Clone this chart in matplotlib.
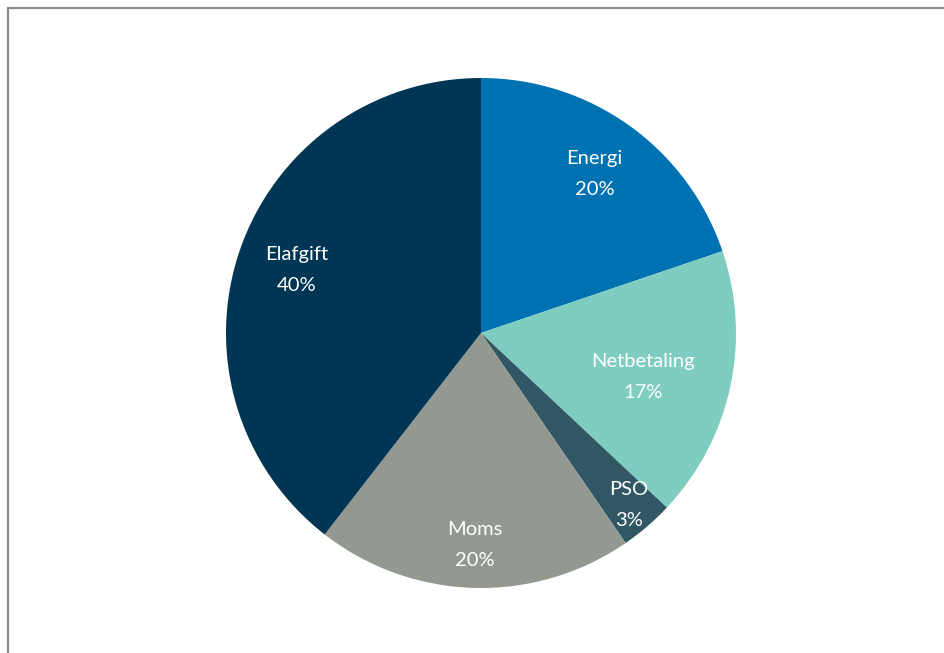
import matplotlib
matplotlib.use('Agg')
import matplotlib.pyplot as plt
from matplotlib.patches import Rectangle
import numpy as np

labels = ['Energi', 'Netbetaling', 'PSO', 'Moms', 'Elafgift']
values = [19.8, 17.2, 3.4, 20.1, 39.5]
pct_labels = ['20%', '17%', '3%', '20%', '40%']
colors = ['#0071B1', '#7ECDC0', '#305763', '#939890', '#003653']
label_r = [0.765, 0.66, 0.89, 0.83, 0.765]
label_turn = [0, -3, 0, 0, 0]  # small angle nudges, degrees

plt.rcParams['font.family'] = ['Lato', 'DejaVu Sans']

W, H = 944, 653
fig = plt.figure(figsize=(W / 100, H / 100), dpi=100)

# frame round the chart area (right and bottom edge fall outside the picture)
fig.add_artist(Rectangle((7.5 / W, -0.05), 1.0, 1 - 8 / H + 0.05,
                         transform=fig.transFigure, fill=False,
                         edgecolor='#8c8c8c', linewidth=1.6))

cx, cy, r = 481, 653 - 333, 255
ax = fig.add_axes([(cx - r) / W, (cy - r) / H, 2 * r / W, 2 * r / H])
wedges, _ = ax.pie(values, colors=colors, startangle=90, counterclock=False,
                   radius=1, wedgeprops=dict(linewidth=0))
ax.set_xlim(-1, 1)
ax.set_ylim(-1, 1)
ax.set_aspect('auto')
ax.axis('off')

for w, name, pct, d, t in zip(wedges, labels, pct_labels, label_r, label_turn):
    ang = np.deg2rad((w.theta1 + w.theta2) / 2 + t)
    ax.text(d * np.cos(ang), d * np.sin(ang), f'{name}\n{pct}',
            ha='center', va='center', color='white', fontsize=14.5,
            linespacing=2.0)

fig.savefig('out.png', dpi=100)
